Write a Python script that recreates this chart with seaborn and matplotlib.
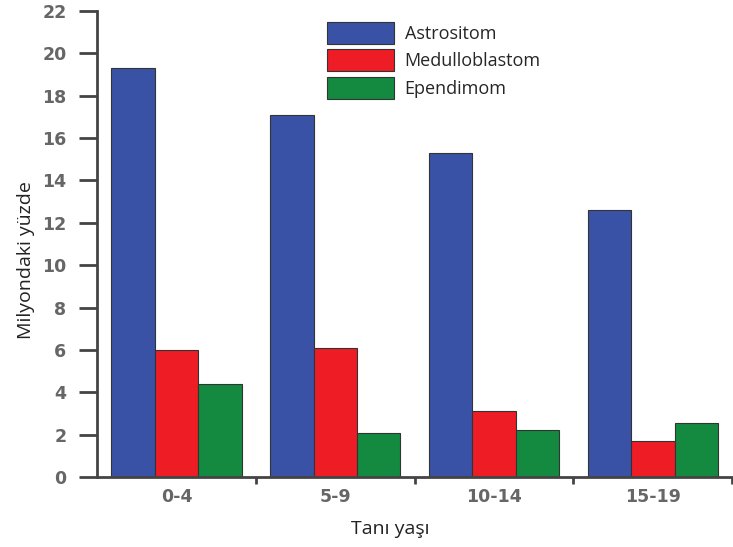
import matplotlib
matplotlib.use("Agg")
import matplotlib.pyplot as plt
import seaborn as sns
import pandas as pd

categories = ["0-4", "5-9", "10-14", "15-19"]
series_names = ["Astrositom", "Medulloblastom", "Ependimom"]
astrositom = [19.3, 17.1, 15.3, 12.6]
medulloblastom = [6.0, 6.1, 3.1, 1.7]
ependimom = [4.4, 2.1, 2.2, 2.55]
y_ticks = [0, 2, 4, 6, 8, 10, 12, 14, 16, 18, 20, 22]

colors = ["#3a52a6", "#ee1c25", "#138a40"]

rows = []
for name, vals in zip(series_names, [astrositom, medulloblastom, ependimom]):
    for c, v in zip(categories, vals):
        rows.append({"age": c, "value": v, "type": name})
df = pd.DataFrame(rows)

sns.set_theme(style="white")
plt.rcParams['font.family'] = ['DejaVu Sans']

fig = plt.figure(figsize=(7.33, 5.47), dpi=100)
ax = fig.add_axes([97/733, 70/547, (733-97)/733 - 0.001, (477-11)/547])

sns.barplot(data=df, x="age", y="value", hue="type", order=categories,
            hue_order=series_names, palette=colors, width=0.82, saturation=1,
            edgecolor="#333333", linewidth=0.8, ax=ax, errorbar=None)

ax.set_xlim(-0.5, 3.5)
ax.set_ylim(0, 22)
ax.set_yticks(y_ticks)
ax.set_yticklabels([str(t) for t in y_ticks], color="#666666",
                   fontsize=12.5, fontweight="bold")
ax.set_xticks(range(len(categories)))
ax.set_xticklabels(categories, color="#666666", fontsize=12.5, fontweight="bold")
ax.set_xticks([0.5, 1.5, 2.5, 3.5], minor=True)
ax.tick_params(axis="x", which="major", length=0, pad=8)
ax.tick_params(axis="x", which="minor", length=5, width=2, color="#444444",
               direction="out", bottom=True)
ax.tick_params(axis="y", which="major", length=13, width=2, color="#444444",
               direction="out", left=True, pad=9)

for s in ["top", "right"]:
    ax.spines[s].set_visible(False)
for s in ["left", "bottom"]:
    ax.spines[s].set_color("#444444")
    ax.spines[s].set_linewidth(2)

ax.set_ylabel("Milyondaki yüzde", fontsize=14, color="#222222",
              family=["Open Sans", "DejaVu Sans"])
ax.set_xlabel("Tanı yaşı", fontsize=14, color="#222222",
              family=["Open Sans", "DejaVu Sans"])
ax.yaxis.set_label_coords((26 - 97) / 636, (477 - 260) / 466)
ax.xaxis.set_label_coords((391 - 97) / 636, -(529 - 477) / 466)
ax.xaxis.label.set_verticalalignment("center")
ax.yaxis.label.set_verticalalignment("center")

handles, labels = ax.get_legend_handles_labels()
ax.legend(handles, labels, loc="upper left",
          bbox_to_anchor=(327/733, 1 - 22/547), bbox_transform=fig.transFigure,
          frameon=False, handlelength=3.7, handleheight=1.5,
          labelspacing=0.3, handletextpad=0.6, borderpad=0, borderaxespad=0,
          prop={"family": ["Open Sans", "DejaVu Sans"], "size": 13})

fig.savefig("out.png", dpi=100)
